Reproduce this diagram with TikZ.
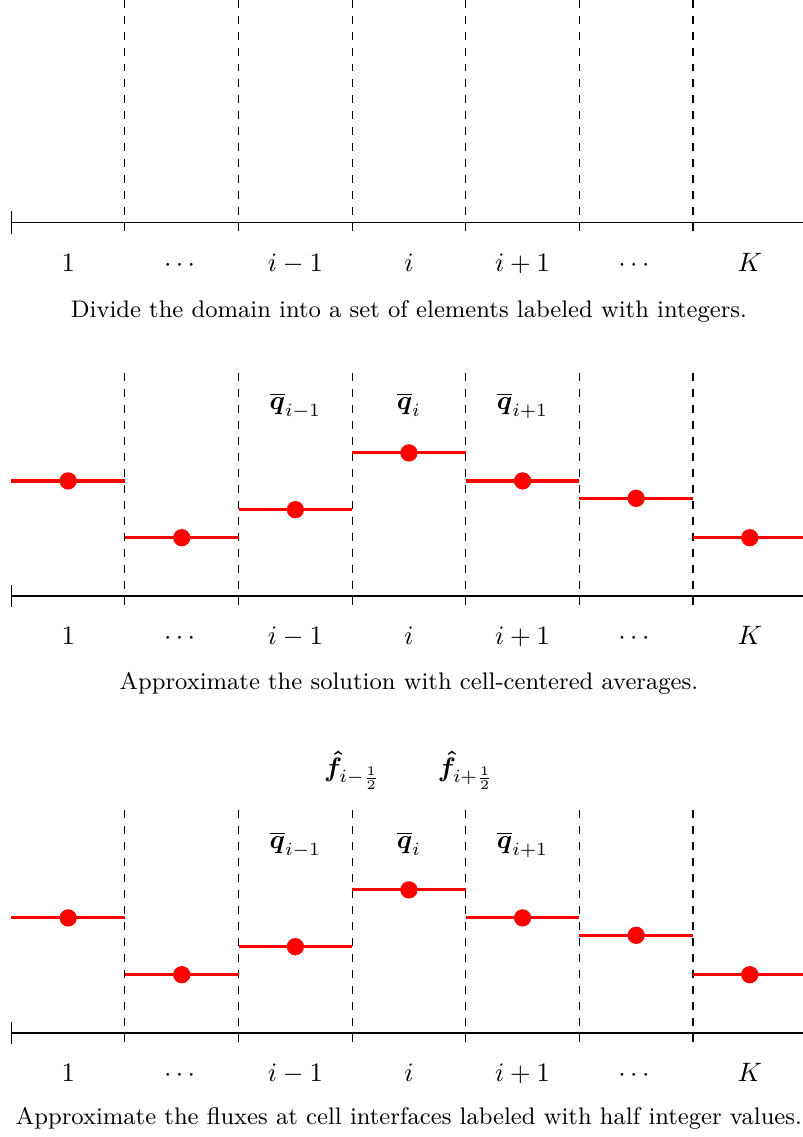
\documentclass[tikz,border=0pt]{standalone}
\usepackage{amsmath}
\usepackage{bm}
\usepackage{tikz}
\usetikzlibrary{positioning}

\begin{document}
\begin{tikzpicture}[
    iface/.style={dashed, thin},
    axisline/.style={thin},
    avg/.style={red, very thick},
    dot/.style={circle, fill=red, inner sep=0pt, minimum size=6.5pt},
    lbl/.style={anchor=base},
    captxt/.style={anchor=base, font=\small},
]
\useasboundingbox (-0.15,-1.373) rectangle (10.44,13.64);

% --- elements only
\begin{scope}[yshift=10.70cm]
\draw[axisline] (0,0) -- (10.5,0);
\draw[axisline] (0,-0.15) -- (0,0.15);
\draw[iface] (1.5,2.945) -- (1.5,-0.16);
\draw[iface] (3,2.945) -- (3,-0.16);
\draw[iface] (4.5,2.945) -- (4.5,-0.16);
\draw[iface] (6,2.945) -- (6,-0.16);
\draw[iface] (7.5,2.945) -- (7.5,-0.16);
\draw[iface] (9,2.945) -- (9,-0.16);
\node[lbl] (a1) at (0.75,-0.64) {$1$};
\node[lbl] (a2) at (2.25,-0.64) {$\cdots$};
\node[lbl] (a3) at (3.75,-0.64) {$i-1$};
\node[lbl] (a4) at (5.25,-0.64) {$i$};
\node[lbl] (a5) at (6.75,-0.64) {$i+1$};
\node[lbl] (a6) at (8.25,-0.64) {$\cdots$};
\node[lbl] (a7) at (9.75,-0.64) {$K$};
\node[captxt] (capa) at (5.25,-1.25) {Divide the domain into a set of elements labeled with integers.};
\end{scope}

% --- cell averages
\begin{scope}[yshift=5.77cm]
\draw[axisline] (0,0) -- (10.5,0);
\draw[axisline] (0,-0.15) -- (0,0.15);
\draw[iface] (1.5,2.945) -- (1.5,-0.16);
\draw[iface] (3,2.945) -- (3,-0.16);
\draw[iface] (4.5,2.945) -- (4.5,-0.16);
\draw[iface] (6,2.945) -- (6,-0.16);
\draw[iface] (7.5,2.945) -- (7.5,-0.16);
\draw[iface] (9,2.945) -- (9,-0.16);
\draw[avg] (0,1.52) -- (1.5,1.52);
\draw[avg] (1.5,0.77) -- (3,0.77);
\draw[avg] (3,1.14) -- (4.5,1.14);
\draw[avg] (4.5,1.89) -- (6,1.89);
\draw[avg] (6,1.52) -- (7.5,1.52);
\draw[avg] (7.5,1.29) -- (9,1.29);
\draw[avg] (9,0.77) -- (10.5,0.77);
\node[dot] (qb1) at (0.75,1.52) {};
\node[dot] (qb2) at (2.25,0.77) {};
\node[dot] (qb3) at (3.75,1.14) {};
\node[dot] (qb4) at (5.25,1.89) {};
\node[dot] (qb5) at (6.75,1.52) {};
\node[dot] (qb6) at (8.25,1.29) {};
\node[dot] (qb7) at (9.75,0.77) {};
\node[lbl] (qbm) at (3.75,2.46) {$\overline{\bm{q}}_{i-1}$};
\node[lbl] (qbi) at (5.25,2.46) {$\overline{\bm{q}}_{i}$};
\node[lbl] (qbp) at (6.75,2.46) {$\overline{\bm{q}}_{i+1}$};
\node[lbl] (b1) at (0.75,-0.64) {$1$};
\node[lbl] (b2) at (2.25,-0.64) {$\cdots$};
\node[lbl] (b3) at (3.75,-0.64) {$i-1$};
\node[lbl] (b4) at (5.25,-0.64) {$i$};
\node[lbl] (b5) at (6.75,-0.64) {$i+1$};
\node[lbl] (b6) at (8.25,-0.64) {$\cdots$};
\node[lbl] (b7) at (9.75,-0.64) {$K$};
\node[captxt] (capb) at (5.25,-1.23) {Approximate the solution with cell-centered averages.};
\end{scope}

% --- interface fluxes
\begin{scope}
\draw[axisline] (0,0) -- (10.5,0);
\draw[axisline] (0,-0.15) -- (0,0.15);
\draw[iface] (1.5,2.945) -- (1.5,-0.16);
\draw[iface] (3,2.945) -- (3,-0.16);
\draw[iface] (4.5,2.945) -- (4.5,-0.16);
\draw[iface] (6,2.945) -- (6,-0.16);
\draw[iface] (7.5,2.945) -- (7.5,-0.16);
\draw[iface] (9,2.945) -- (9,-0.16);
\draw[avg] (0,1.52) -- (1.5,1.52);
\draw[avg] (1.5,0.77) -- (3,0.77);
\draw[avg] (3,1.14) -- (4.5,1.14);
\draw[avg] (4.5,1.89) -- (6,1.89);
\draw[avg] (6,1.52) -- (7.5,1.52);
\draw[avg] (7.5,1.29) -- (9,1.29);
\draw[avg] (9,0.77) -- (10.5,0.77);
\node[dot] (qc1) at (0.75,1.52) {};
\node[dot] (qc2) at (2.25,0.77) {};
\node[dot] (qc3) at (3.75,1.14) {};
\node[dot] (qc4) at (5.25,1.89) {};
\node[dot] (qc5) at (6.75,1.52) {};
\node[dot] (qc6) at (8.25,1.29) {};
\node[dot] (qc7) at (9.75,0.77) {};
\node[lbl] (qcm) at (3.75,2.43) {$\overline{\bm{q}}_{i-1}$};
\node[lbl] (qci) at (5.25,2.43) {$\overline{\bm{q}}_{i}$};
\node[lbl] (qcp) at (6.75,2.43) {$\overline{\bm{q}}_{i+1}$};
\node[lbl] (fm) at (4.5,3.39) {$\bm{\hat{f}}_{i-\frac{1}{2}}$};
\node[lbl] (fp) at (6,3.39) {$\bm{\hat{f}}_{i+\frac{1}{2}}$};
\node[lbl] (c1) at (0.75,-0.64) {$1$};
\node[lbl] (c2) at (2.25,-0.64) {$\cdots$};
\node[lbl] (c3) at (3.75,-0.64) {$i-1$};
\node[lbl] (c4) at (5.25,-0.64) {$i$};
\node[lbl] (c5) at (6.75,-0.64) {$i+1$};
\node[lbl] (c6) at (8.25,-0.64) {$\cdots$};
\node[lbl] (c7) at (9.75,-0.64) {$K$};
\node[captxt] (capc) at (5.25,-1.21) {Approximate the fluxes at cell interfaces labeled with half integer values.};
\end{scope}
\end{tikzpicture}
\end{document}
